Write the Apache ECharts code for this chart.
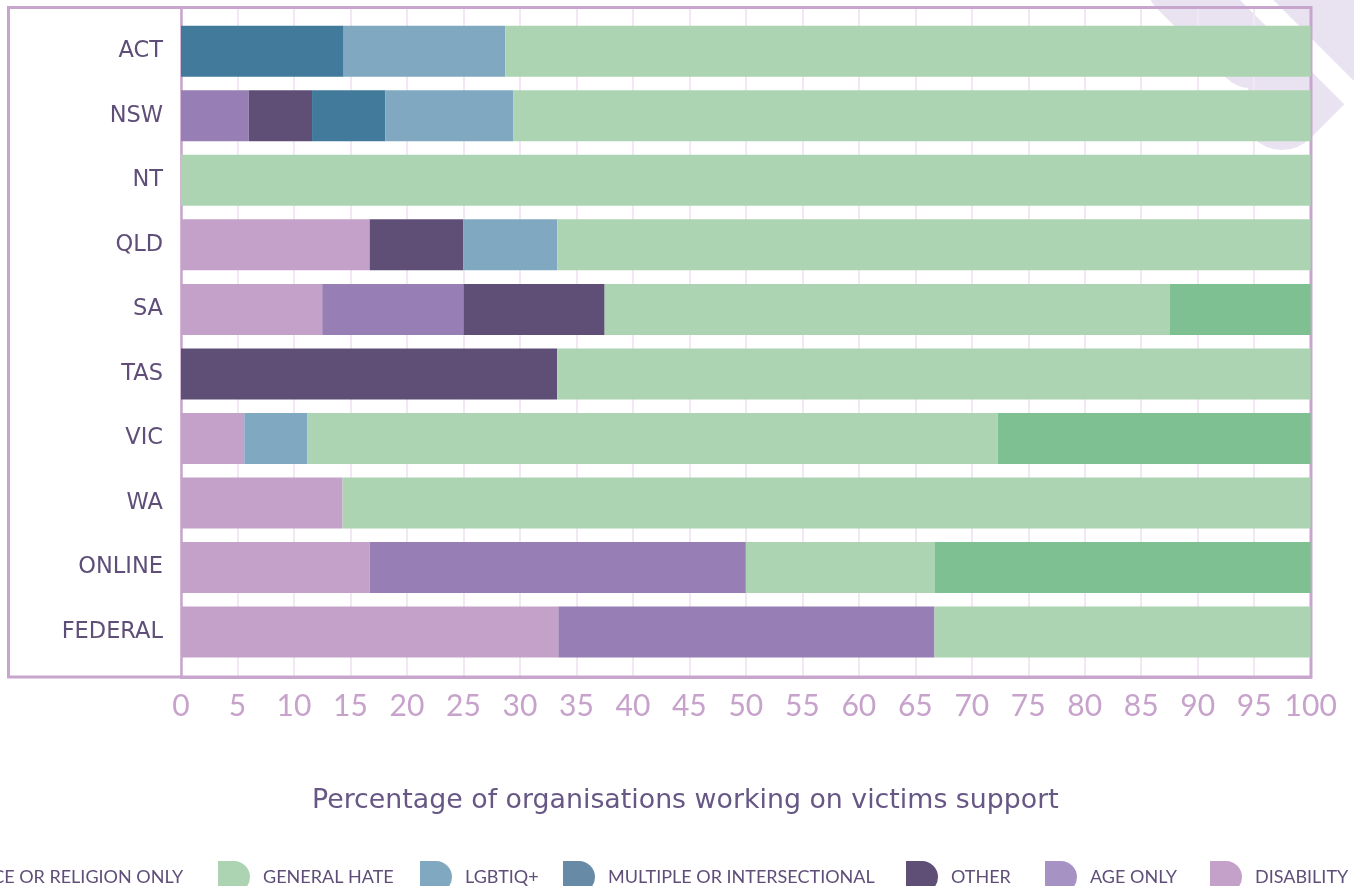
<!DOCTYPE html>
<html>
<head>
<meta charset="utf-8">
<script src="https://cdn.jsdelivr.net/npm/echarts@6/dist/echarts.min.js"></script>
<style>
  html, body { margin: 0; padding: 0; background: #ffffff; }
  #chart { width: 1354px; height: 886px; }
</style>
</head>
<body>
<div id="chart"></div>
<script>
// Jurisdictions, top to bottom
const regions = ['ACT', 'NSW', 'NT', 'QLD', 'SA', 'TAS', 'VIC', 'WA', 'ONLINE', 'FEDERAL'];

// Share of organisations (%) by focus area, one value per jurisdiction
const disability   = [0,    0,    0,   16.7, 12.5, 0,    5.6,  14.3, 16.7, 33.4];
const ageOnly      = [0,    6.0,  0,   0,    12.5, 0,    0,    0,    33.3, 33.3];
const other        = [0,    5.6,  0,   8.3,  12.5, 33.3, 0,    0,    0,    0];
const multiple     = [14.4, 6.5,  0,   0,    0,    0,    0,    0,    0,    0];
const lgbtiq       = [14.3, 11.3, 0,   8.3,  0,    0,    5.6,  0,    0,    0];
const generalHate  = [71.3, 70.6, 100, 66.7, 50,   66.7, 61.1, 85.7, 16.7, 33.3];
const raceReligion = [0,    0,    0,   0,    12.5, 0,    27.7, 0,    33.3, 0];

// Percentage axis ticks
const xTickStep = 5;
const xMin = 0;
const xMax = 100;

const axisTitle = 'Percentage of organisations working on victims support';

const FONT = 'Lato, "DejaVu Sans", sans-serif';
const WIDE_FONT = '"DejaVu Sans", sans-serif';
const TEXT_DARK = '#5e4e78';
const FRAME = '#c8a5cc';

// Series definitions in stacking order (left to right)
const seriesDefs = [
  { name: 'DISABILITY',                 data: disability,   color: '#c4a1c9', legendColor: '#c4a1c9' },
  { name: 'AGE ONLY',                   data: ageOnly,      color: '#977fb5', legendColor: '#a693c4' },
  { name: 'OTHER',                      data: other,        color: '#5f4f77', legendColor: '#5f4f77' },
  { name: 'MULTIPLE OR INTERSECTIONAL', data: multiple,     color: '#417a9b', legendColor: '#678aa6' },
  { name: 'LGBTIQ+',                    data: lgbtiq,       color: '#80a8c1', legendColor: '#80a8c1' },
  { name: 'GENERAL HATE',               data: generalHate,  color: '#acd4b2', legendColor: '#acd4b2' },
  { name: 'RACE OR RELIGION ONLY',      data: raceReligion, color: '#7ec091', legendColor: '#7ec091' }
];

// Legend strip along the bottom edge: one entry per series, reverse stacking order,
// each placed at its own horizontal offset (the strip runs past the left edge)
const legendLeft = {
  'RACE OR RELIGION ONLY': -76,
  'GENERAL HATE': 218,
  'LGBTIQ+': 420,
  'MULTIPLE OR INTERSECTIONAL': 563,
  'OTHER': 906,
  'AGE ONLY': 1045,
  'DISABILITY': 1210
};

const legends = seriesDefs.slice().reverse().map(d => ({
  left: legendLeft[d.name],
  top: 861,
  padding: 0,
  itemWidth: 32,
  itemHeight: 32,
  icon: 'path://M0,0H16A16,16,0,0,1,16,32H0Z',
  selectedMode: false,
  textStyle: { fontFamily: FONT, fontSize: 18, color: TEXT_DARK, padding: [0, 0, 14, 8] },
  data: [{ name: d.name, itemStyle: { color: d.legendColor } }]
}));

const chart = echarts.init(document.getElementById('chart'), null, { renderer: 'canvas' });

const LAVENDER = '#e9e2f0';

chart.setOption({
  animation: false,
  backgroundColor: '#ffffff',
  title: {
    text: axisTitle,
    left: 312,
    top: 788,
    padding: 0,
    textStyle: { fontFamily: WIDE_FONT, fontSize: 26.8, fontWeight: 'normal', color: '#665785' }
  },
  legend: legends,
  graphic: {
    elements: [
      // decorative lavender shapes in the top-right corner
      { type: 'line', z: -10, silent: true,
        shape: { x1: 1180, y1: -15, x2: 1250, y2: 55 },
        style: { stroke: LAVENDER, lineWidth: 66, lineCap: 'round' } },
      { type: 'line', z: -10, silent: true,
        shape: { x1: 1282, y1: 110, x2: 1420, y2: -28 },
        style: { stroke: LAVENDER, lineWidth: 80, lineCap: 'round' } },
      { type: 'polygon', z: -10, silent: true,
        shape: { points: [[1273, 0], [1354, 0], [1354, 81]] },
        style: { fill: LAVENDER } },
      { type: 'polygon', z: -9, silent: true,
        shape: { points: [[1240, 0], [1273, 0], [1380, 107], [1347, 107]] },
        style: { fill: '#ffffff' } },
      // outer frame
      { type: 'rect', z: 1, silent: true,
        shape: { x: 8.5, y: 7.5, width: 1302.5, height: 669.5 },
        style: { fill: 'none', stroke: FRAME, lineWidth: 3 } }
    ]
  },
  grid: [
    { left: 181, right: 43.3, top: 19, bottom: 221.7 },
    { left: 181, right: 43.3, top: 7.5, bottom: 209 }
  ],
  xAxis: [
    { type: 'value', gridIndex: 0, min: xMin, max: xMax, show: false },
    {
      type: 'value', gridIndex: 1, min: xMin, max: xMax, interval: xTickStep,
      axisLine: { show: true, lineStyle: { color: FRAME, width: 3 } },
      axisTick: { show: false },
      splitLine: { show: true, lineStyle: { color: '#f1e8f3', width: 2 } },
      axisLabel: { fontFamily: FONT, fontSize: 30, color: '#c7a3cc', margin: 14 }
    }
  ],
  yAxis: [
    {
      type: 'category', gridIndex: 0, data: regions, inverse: true,
      axisLine: { show: false },
      axisTick: { show: false },
      axisLabel: { fontFamily: WIDE_FONT, fontSize: 22.5, color: TEXT_DARK, margin: 18, padding: [4, 0, 0, 0] }
    },
    {
      type: 'value', gridIndex: 1, min: 0, max: 1,
      axisLine: { show: true, lineStyle: { color: FRAME, width: 2.5 } },
      axisTick: { show: false },
      axisLabel: { show: false },
      splitLine: { show: false }
    }
  ],
  series: seriesDefs.map(d => ({
    name: d.name,
    type: 'bar',
    stack: 'total',
    xAxisIndex: 0,
    yAxisIndex: 0,
    barWidth: 51,
    itemStyle: { color: d.color },
    data: d.data
  }))
});
</script>
</body>
</html>
